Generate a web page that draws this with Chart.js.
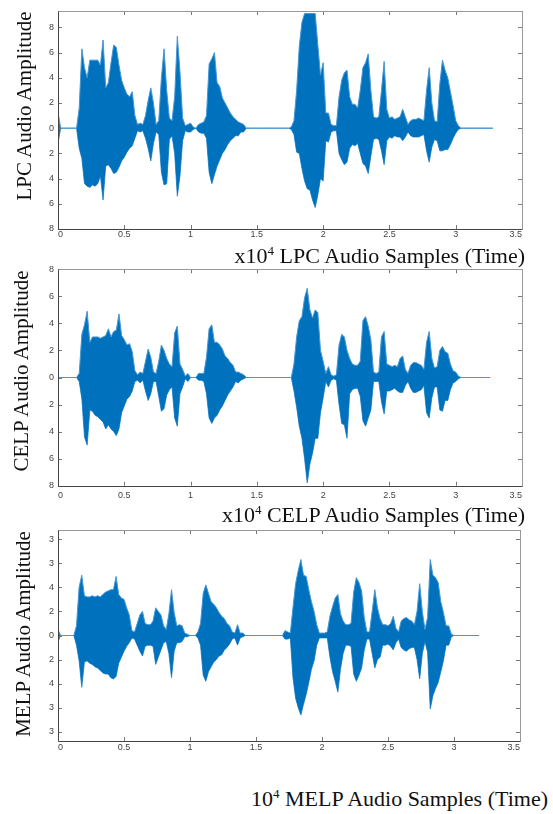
<!DOCTYPE html>
<html>
<head>
<meta charset="utf-8">
<script src="https://cdn.jsdelivr.net/npm/chart.js@4.4.1/dist/chart.umd.min.js"></script>
<style>
  body { margin: 0; background: #fff; }
  #page { position: relative; width: 553px; height: 814px; overflow: hidden; }
  canvas { position: absolute; left: 0; }
  .ytitle, .xtitle {
    position: absolute; font-family: "Liberation Serif", "Times New Roman", serif;
    font-size: 21px; line-height: 21px; color: #111; white-space: nowrap;
  }
  .xtitle { font-size: 22px; line-height: 22px; }
  .ytitle { transform: translate(-50%, -50%) rotate(-90deg); }
  .sup { font-size: 13px; position: relative; top: -8px; }
</style>
</head>
<body>
<div id="page">
  <canvas id="lpc" width="553" height="255" style="top:0px"></canvas>
  <canvas id="celp" width="553" height="255" style="top:258px"></canvas>
  <canvas id="melp" width="553" height="260" style="top:518px"></canvas>

  <div class="ytitle" style="left:24px; top:106px">LPC Audio Amplitude</div>
  <div class="ytitle" style="left:21px; top:371px">CELP Audio Amplitude</div>
  <div class="ytitle" style="left:23px; top:634px">MELP Audio Amplitude</div>

  <div class="xtitle" style="right:28px; top:245px">x10<span class="sup">4</span> LPC Audio Samples (Time)</div>
  <div class="xtitle" style="right:28px; top:504px">x10<span class="sup">4</span> CELP Audio Samples (Time)</div>
  <div class="xtitle" style="right:5px; top:788px">10<span class="sup">4</span> MELP Audio Samples (Time)</div>
</div>

<script>
// Axis ticks (x in units of 10^4 samples)
const xTicks = [0, 0.5, 1, 1.5, 2, 2.5, 3, 3.5];
const xTickLabels = ['0', '0.5', '1', '1.5', '2', '2.5', '3', '3.5'];
const yTicks = [-8, -6, -4, -2, 0, 2, 4, 6, 8];
const lpcYLabels = ['8', '6', '4', '2', '0', '2', '4', '6', '8'];
const celpYLabels = ['8', '6', '4', '2', '0', '2', '4', '6', '8'];
const melpYLabels = ['3', '3', '4', '2', '0', '2', '4', '3', '3'];

// envelope read every 0.02 x10^4 samples, from 0 to 3.04
const step = 0.02;

const lpcUpper = [
  1.3, 0, 0, 0, 0, 0, 0, 0, 1.6, 6.3,
  4.8, 4.0, 5.4, 5.4, 5.4, 5.4, 5.0, 7.0, 3.2, 3.6,
  5.2, 6.6, 6.4, 5.0, 3.8, 3.2, 2.7, 2.5, 2.9, 1.0,
  0.3, 0.4, 0.3, 1.0, 2.2, 3.2, 2.0, 0.3, 0.6, 4.0,
  6.3, 3.0, 0.8, 0.6, 2.5, 7.3, 4.5, 0.8, 0.2, 0.3,
  0.4, 0.1, 0, 0.3, 0.4, 0.5, 1.0, 5.1, 5.5, 6.0,
  3.6, 3.3, 2.4, 2.0, 1.6, 1.2, 0.9, 0.7, 0.5, 0.4,
  0.3, 0, 0, 0, 0, 0, 0, 0, 0, 0,
  0, 0, 0, 0, 0, 0, 0, 0, 0.1, 0.6,
  3.0, 6.5, 8.4, 9.1, 9.1, 9.1, 9.1, 9.1, 6.6, 4.2,
  5.2, 1.2, 1.2, 0.3, 0.2, 0.2, 2.5, 3.8, 4.4, 4.6,
  2.5, 1.9, 1.9, 1.6, 3.0, 4.8, 5.2, 5.9, 3.0, 0.9,
  0.8, 0.9, 3.0, 5.3, 1.5, 0.8, 0.9, 0.7, 0.8, 0.9,
  1.5, 0.9, 0.3, 0.6, 0.7, 0.7, 0.8, 0.7, 0.6, 3.0,
  4.8, 2.0, 0.6, 0.5, 3.5, 5.4, 4.6, 4.0, 2.9, 1.8,
  0.6, 0.2, 0
];
const lpcLower = [
  -1.2, 0, 0, 0, 0, 0, 0, 0, -1.6, -2.4,
  -4.4, -4.6, -4.7, -4.5, -4.6, -4.4, -3.8, -5.7, -3.0, -2.9,
  -3.2, -3.6, -3.5, -3.1, -2.6, -2.3, -1.9, -1.6, -1.4, -0.8,
  -0.2, -0.3, -0.2, -0.8, -1.6, -2.6, -1.2, -0.3, -0.5, -3.5,
  -4.5, -4.4, -0.9, -0.6, -2.0, -5.4, -3.8, -1.0, -0.2, -0.3,
  -0.3, -0.1, 0, -0.3, -0.4, -0.4, -0.8, -3.5, -4.4, -3.7,
  -3.0, -2.5, -2.0, -1.7, -1.3, -1.0, -0.8, -0.6, -0.6, -0.3,
  -0.3, 0, 0, 0, 0, 0, 0, 0, 0, 0,
  0, 0, 0, 0, 0, 0, 0, 0, -0.1, -0.5,
  -1.9, -2.0, -3.2, -4.2, -4.8, -4.9, -5.7, -6.3, -5.3, -4.0,
  -4.2, -1.0, -1.1, -0.3, -0.2, -0.2, -2.0, -2.5, -2.9, -2.7,
  -1.6, -1.3, -1.4, -1.2, -2.0, -2.8, -3.0, -3.6, -2.2, -0.9,
  -0.8, -0.9, -1.8, -2.9, -1.0, -0.7, -0.8, -0.6, -0.7, -0.7,
  -1.0, -0.7, -0.3, -0.6, -0.7, -0.7, -0.7, -0.6, -0.5, -1.8,
  -2.7, -1.5, -0.9, -1.0, -1.8, -1.8, -1.7, -1.7, -1.3, -0.8,
  -0.4, -0.1, 0
];
const lpcEnd = 3.28;

const celpUpper = [
  0, 0, 0, 0, 0, 0, 0, 0, 0.3, 3.2,
  3.9, 4.9, 2.6, 3.0, 3.0, 3.0, 2.9, 3.0, 3.1, 3.6,
  3.0, 3.4, 3.5, 4.7, 3.1, 2.8, 2.4, 2.5, 1.9, 0.5,
  0.2, 0.4, 0.3, 1.2, 2.1, 1.5, 0.4, 0.3, 1.2, 2.4,
  2.0, 1.4, 1.0, 0.8, 3.3, 3.8, 1.0, 0.6, 0.1, 0.3,
  0, 0, 0, 0.3, 0.3, 0.3, 1.5, 3.6, 3.9, 2.6,
  2.6, 2.4, 2.1, 1.6, 1.4, 1.1, 0.9, 0.4, 0.4, 0.3,
  0.2, 0, 0, 0, 0, 0, 0, 0, 0, 0,
  0, 0, 0, 0, 0, 0, 0, 0, 0, 1.0,
  3.0, 4.2, 4.5, 5.9, 6.6, 5.0, 4.4, 5.0, 4.8, 2.0,
  1.2, 0.3, 0.8, 0.2, 0.1, 0.2, 2.4, 3.2, 3.0, 2.0,
  1.4, 1.0, 0.9, 0.9, 1.2, 4.2, 4.5, 3.8, 2.8, 0.4,
  0.3, 0.4, 3.0, 3.4, 1.0, 0.9, 0.8, 0.9, 0.8, 1.4,
  1.6, 0.6, 0.3, 0.9, 1.1, 1.1, 1.0, 0.9, 0.6, 2.6,
  3.4, 1.4, 0.7, 0.8, 2.0, 2.3, 1.9, 1.8, 1.0, 0.5,
  0.4, 0.1, 0
];
const celpLower = [
  0, 0, 0, 0, 0, 0, 0, 0, -0.3, -1.6,
  -4.4, -5.0, -2.4, -2.5, -2.8, -2.9, -3.1, -3.3, -3.8, -3.5,
  -3.8, -4.0, -4.3, -3.8, -2.6, -2.1, -1.6, -1.4, -1.0, -0.3,
  -0.2, -0.4, -0.2, -1.0, -1.7, -1.2, -0.3, -0.3, -1.4, -2.5,
  -2.3, -1.3, -0.9, -0.7, -3.0, -3.6, -1.2, -0.7, -0.1, -0.3,
  0, 0, 0, -0.2, -0.2, -0.3, -1.2, -3.0, -3.4, -3.0,
  -2.8, -2.4, -2.1, -1.7, -1.3, -1.0, -0.7, -0.3, -0.4, -0.2,
  -0.1, 0, 0, 0, 0, 0, 0, 0, 0, 0,
  0, 0, 0, 0, 0, 0, 0, 0, 0, -1.0,
  -2.2, -3.6, -4.5, -6.0, -7.8, -6.4, -5.6, -4.5, -4.5, -2.6,
  -1.5, -0.3, -0.7, -0.2, -0.1, -0.2, -2.0, -3.4, -3.5, -4.5,
  -1.2, -0.9, -0.8, -0.8, -1.4, -3.2, -3.6, -3.0, -2.4, -0.3,
  -0.3, -0.3, -1.8, -2.7, -1.0, -1.0, -0.9, -0.8, -1.0, -1.1,
  -1.1, -0.6, -0.3, -0.8, -1.1, -1.1, -1.0, -0.9, -0.6, -2.6,
  -3.0, -1.5, -0.7, -0.7, -2.4, -2.5, -1.7, -1.7, -0.9, -0.4,
  -0.3, -0.1, 0
];
const celpEnd = 3.26;

const melpUpper = [
  0.5, 0, 0, 0, 0, 0, 0, 0.8, 4.0, 5.0,
  3.3, 3.2, 3.2, 3.3, 3.2, 3.3, 3.2, 3.4, 3.6, 3.7,
  3.8, 3.8, 4.9, 3.4, 3.1, 3.0, 2.3, 1.7, 0.4, 0.3,
  1.0, 1.7, 2.0, 1.0, 0.9, 0.9, 1.2, 2.3, 2.0, 1.7,
  0.8, 0.5, 1.8, 3.8, 1.9, 0.8, 0.9, 0.8, 0.2, 0.1,
  0, 0, 0, 0.3, 1.0, 3.5, 4.2, 3.5, 2.8, 2.6,
  2.3, 1.9, 1.6, 1.4, 1.0, 0.8, 0.3, 0.2, 0.9, 0.2,
  0.2, 0, 0, 0, 0, 0, 0, 0, 0, 0,
  0, 0, 0, 0, 0, 0, 0.4, 0.3, 0.2, 2.3,
  4.3, 5.4, 6.3, 5.0, 4.9, 3.8, 2.8, 2.0, 0.9, 0.2,
  0.2, 0.2, 0.3, 1.6, 2.4, 3.1, 3.4, 1.8, 1.2, 0.9,
  0.9, 1.0, 3.6, 4.8, 4.4, 3.7, 1.5, 0.3, 0.3, 2.0,
  3.8, 2.3, 1.4, 0.9, 0.9, 0.8, 1.0, 1.6, 0.6, 0.3,
  1.2, 1.4, 1.5, 1.3, 1.2, 0.9, 2.0, 4.3, 2.0, 0.5,
  1.5, 6.3, 5.0, 4.8, 4.4, 2.8, 1.9, 0.8, 0.8, 0.1,
  0, 0, 0
];
const melpLower = [
  -0.5, 0, 0, 0, 0, 0, 0, -0.8, -2.1, -4.3,
  -2.2, -2.1, -2.3, -2.4, -2.6, -2.7, -2.9, -3.1, -3.2, -3.2,
  -3.5, -3.6, -3.4, -2.3, -1.8, -1.3, -0.9, -0.6, -0.2, -0.3,
  -0.8, -1.3, -1.7, -0.9, -0.8, -0.8, -0.9, -2.4, -1.8, -1.2,
  -0.6, -0.5, -1.5, -3.5, -1.3, -0.6, -0.6, -0.5, -0.1, -0.1,
  0, 0, 0, -0.2, -0.8, -3.3, -3.8, -3.0, -2.6, -2.2,
  -2.0, -1.7, -1.6, -1.2, -1.0, -0.7, -0.3, -0.2, -0.8, -0.2,
  -0.1, 0, 0, 0, 0, 0, 0, 0, 0, 0,
  0, 0, 0, 0, 0, 0, -0.3, -0.3, -0.2, -3.5,
  -5.2, -6.0, -6.6, -5.7, -4.9, -3.9, -2.8, -2.1, -0.8, -0.2,
  -0.2, -0.2, -0.2, -1.8, -3.0, -3.8, -4.7, -2.8, -1.5, -0.8,
  -0.8, -0.9, -3.2, -3.8, -3.3, -2.7, -1.2, -0.3, -0.3, -1.5,
  -2.7, -2.0, -1.8, -0.8, -0.8, -0.7, -0.9, -1.2, -0.6, -0.3,
  -1.0, -1.2, -1.3, -1.1, -1.0, -1.0, -2.0, -3.6, -1.5, -0.5,
  -1.4, -6.1, -5.0, -4.4, -3.9, -3.0, -2.1, -0.8, -0.8, -0.1,
  0, 0, 0
];
const melpEnd = 3.19;

const BLUE = '#0072BD';
const EDGE = '#4796d2';

// pair every value with its sample position, then the flat tail
function toPoints(vals, end) {
    let pts = vals.map((v, i) => ({ x: +(i * step).toFixed(2), y: v }));
    pts.push({ x: end, y: 0 });
    return pts;
}

// inner MATLAB style ticks, box and x tick labels
const frame = {
    id: 'frame',
    afterDraw(chart) {
        const opts = chart.options.plugins.frame;
        const { ctx, chartArea: a, scales: { x, y } } = chart;
        ctx.save();
        ctx.lineWidth = 1;
        ctx.strokeStyle = '#777';
        ctx.beginPath();
        x.ticks.forEach((t, i) => {
            const px = Math.round(x.getPixelForTick(i)) + 0.5;
            ctx.moveTo(px, a.top); ctx.lineTo(px, a.top + 4);
            ctx.moveTo(px, a.bottom); ctx.lineTo(px, a.bottom - 4);
        });
        y.ticks.forEach((t, i) => {
            const py = Math.round(y.getPixelForTick(i)) + 0.5;
            ctx.moveTo(a.left, py); ctx.lineTo(a.left + 4, py);
            ctx.moveTo(a.right, py); ctx.lineTo(a.right - 4, py);
        });
        ctx.stroke();

        const l = Math.round(a.left) + 0.5, r = Math.round(a.right) + 0.5;
        const t = Math.round(a.top) + 0.5, b = Math.round(a.bottom) + 0.5;
        ctx.strokeStyle = '#999';
        ctx.beginPath();
        ctx.moveTo(l, t); ctx.lineTo(r, t); ctx.lineTo(r, b);
        ctx.stroke();
        ctx.strokeStyle = '#444';
        ctx.beginPath();
        ctx.moveTo(l, t); ctx.lineTo(l, b); ctx.lineTo(r, b);
        ctx.stroke();

        ctx.fillStyle = '#444';
        ctx.font = '9px "Liberation Sans", Arial, sans-serif';
        ctx.textBaseline = 'middle';
        const last = x.ticks.length - 1;
        x.ticks.forEach((tk, i) => {
            ctx.textAlign = i === 0 ? 'left' : (i === last ? 'right' : 'center');
            ctx.fillText(opts.labels[i], x.getPixelForTick(i), a.bottom + opts.pad);
        });
        ctx.restore();
    }
};

function makePanel(id, upper, lower, end, yMin, yMax, yLabels, lay) {
    const ctx = document.getElementById(id).getContext('2d');
    return new Chart(ctx, {
        type: 'line',
        data: {
            datasets: [{
                data: toPoints(upper, end),
                borderColor: EDGE,
                backgroundColor: BLUE,
                borderWidth: 1,
                pointRadius: 0,
                fill: '+1'
            }, {
                data: toPoints(lower, end),
                borderColor: EDGE,
                borderWidth: 1,
                pointRadius: 0,
                fill: false
            }]
        },
        options: {
            responsive: false,
            animation: false,
            devicePixelRatio: 1,
            layout: { padding: { top: lay.top, right: lay.right, left: 0, bottom: 0 } },
            plugins: {
                legend: { display: false },
                tooltip: { enabled: false },
                frame: { labels: xTickLabels, pad: lay.labelPad }
            },
            scales: {
                x: {
                    type: 'linear',
                    min: 0,
                    max: 3.5,
                    afterBuildTicks: s => { s.ticks = xTicks.map(v => ({ value: v })); },
                    afterFit: s => { s.height = lay.xHeight; },
                    ticks: { display: false },
                    grid: { display: false },
                    border: { display: false }
                },
                y: {
                    min: yMin,
                    max: yMax,
                    afterBuildTicks: s => { s.ticks = yTicks.map(v => ({ value: v })); },
                    afterFit: s => { s.width = 58; },
                    ticks: {
                        callback: (v, i) => yLabels[i],
                        color: '#444',
                        padding: 4,
                        font: { family: '"Liberation Sans", Arial, sans-serif', size: 9 }
                    },
                    grid: { display: false, drawTicks: false },
                    border: { display: false }
                }
            }
        },
        plugins: [frame]
    });
}

makePanel('lpc', lpcUpper, lpcLower, lpcEnd, -8, 9.3, lpcYLabels,
    { top: 11, right: 31, xHeight: 26, labelPad: 6 });
makePanel('celp', celpUpper, celpLower, celpEnd, -8, 8, celpYLabels,
    { top: 11.3, right: 31, xHeight: 27.3, labelPad: 10 });
makePanel('melp', melpUpper, melpLower, melpEnd, -8.75, 8.75, melpYLabels,
    { top: 12, right: 33, xHeight: 37, labelPad: 7 });
</script>
</body>
</html>
